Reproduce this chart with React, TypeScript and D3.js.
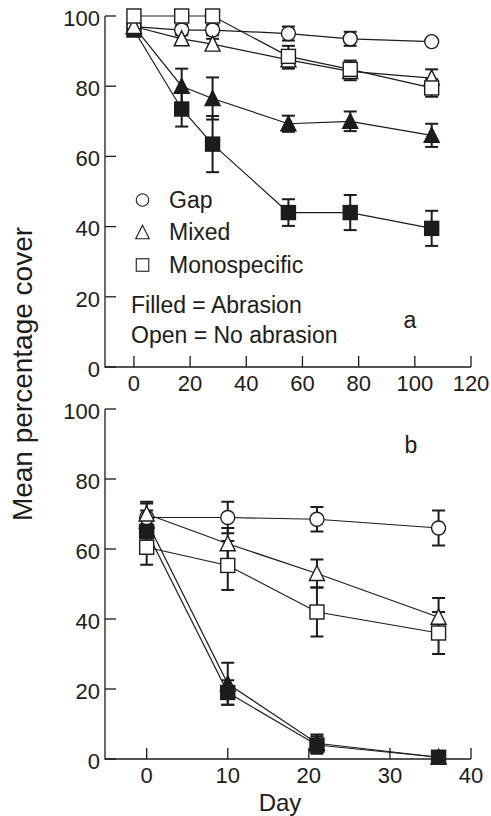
import React, { useEffect, useRef } from "react";
import * as d3 from "d3";

// panel a: days and values (mean % cover) with error bars
const daysA = [0, 17, 28, 55, 77, 106];
const gapOpenA = [97, 96, 96, 95, 93.5, 92.7];
const gapOpenErrA = [1, 1.5, 1.5, 2, 2, 0];
const mixedOpenA = [97, 93.5, 92, 87.5, 84.2, 82.3];
const mixedOpenErrA = [1, 1.5, 1.5, 2.5, 2.5, 2.5];
const monoOpenA = [100, 100, 100, 88.5, 84.8, 79.5];
const monoOpenErrA = [0, 0, 0, 3, 2.5, 2.5];
const mixedFilledA = [97, 80, 76.5, 69.3, 70, 66];
const mixedFilledErrA = [1, 5, 6, 2.3, 2.8, 3.3];
const monoFilledA = [96, 73.5, 63.5, 44, 44, 39.5];
const monoFilledErrA = [1.5, 5, 8, 3.8, 5, 5];

// panel b
const daysB = [0, 10, 21, 36];
const gapOpenB = [69, 69, 68.5, 66];
const gapOpenErrB = [4, 4.5, 3.5, 5];
const mixedOpenB = [70, 61.5, 53, 40.5];
const mixedOpenErrB = [3.5, 4.5, 4, 5.5];
const monoOpenB = [60.5, 55.3, 42, 36];
const monoOpenErrB = [5, 7, 7, 6];
const mixedFilledB = [68, 21.5, 4.5, 0.5];
const mixedFilledErrB = [3, 6, 2.5, 0.5];
const monoFilledB = [65, 19, 4, 0.5];
const monoFilledErrB = [2, 3.5, 2.5, 0.5];

const yTicks = [0, 20, 40, 60, 80, 100];
const xTicksA = [0, 20, 40, 60, 80, 100, 120];
const xTicksB = [0, 10, 20, 30, 40];

const legendItems = [
  { shape: "circle", label: "Gap" },
  { shape: "triangle", label: "Mixed" },
  { shape: "square", label: "Monospecific" },
];
const legendNotes = ["Filled = Abrasion", "Open = No abrasion"];

type Series = { shape: string; filled: boolean; values: number[]; err: number[] };

const seriesA: Series[] = [
  { shape: "triangle", filled: true, values: mixedFilledA, err: mixedFilledErrA },
  { shape: "square", filled: true, values: monoFilledA, err: monoFilledErrA },
  { shape: "circle", filled: false, values: gapOpenA, err: gapOpenErrA },
  { shape: "triangle", filled: false, values: mixedOpenA, err: mixedOpenErrA },
  { shape: "square", filled: false, values: monoOpenA, err: monoOpenErrA },
];
const seriesB: Series[] = [
  { shape: "triangle", filled: true, values: mixedFilledB, err: mixedFilledErrB },
  { shape: "square", filled: true, values: monoFilledB, err: monoFilledErrB },
  { shape: "circle", filled: false, values: gapOpenB, err: gapOpenErrB },
  { shape: "triangle", filled: false, values: mixedOpenB, err: mixedOpenErrB },
  { shape: "square", filled: false, values: monoOpenB, err: monoOpenErrB },
];

const INK = "#1d1b1c";
const FONT = "'Liberation Sans', Arial, Helvetica, sans-serif";

function drawMarker(g: any, shape: string, filled: boolean, x: number, y: number, size: number, sw: number) {
  const fill = filled ? INK : "#fff";
  if (shape === "circle") {
    g.append("circle").attr("cx", x).attr("cy", y).attr("r", size / 2)
      .attr("fill", fill).attr("stroke", INK).attr("stroke-width", sw);
  } else if (shape === "square") {
    g.append("rect").attr("x", x - size / 2).attr("y", y - size / 2)
      .attr("width", size).attr("height", size)
      .attr("fill", fill).attr("stroke", INK).attr("stroke-width", sw);
  } else {
    const h = size * 0.5;
    g.append("path")
      .attr("d", `M${x},${y - h - 1}L${x + h + 0.5},${y + h}L${x - h - 0.5},${y + h}Z`)
      .attr("fill", fill).attr("stroke", INK).attr("stroke-width", sw)
      .attr("stroke-linejoin", "miter");
  }
}

function drawPanel(svg: any, days: number[], series: Series[], x: any, y: any, xTicks: number[], label: string, labelPos: number[]) {
  const g = svg.append("g");
  const [x0, x1] = x.range();
  const [yb, yt] = y.range();

  // axes
  g.append("path")
    .attr("d", `M${x0},${yt}V${yb}H${x1}`)
    .attr("fill", "none").attr("stroke", INK).attr("stroke-width", 1.3);

  yTicks.forEach((t) => {
    g.append("line").attr("x1", x0).attr("x2", x0 + 11).attr("y1", y(t)).attr("y2", y(t))
      .attr("stroke", INK).attr("stroke-width", 1.3);
    g.append("text").attr("x", x0 - 5).attr("y", y(t) + 2).attr("dy", "0.35em")
      .attr("text-anchor", "end").attr("font-size", 22).attr("fill", INK).text(t);
  });
  xTicks.forEach((t) => {
    g.append("line").attr("x1", x(t)).attr("x2", x(t)).attr("y1", yb).attr("y2", yb - 11)
      .attr("stroke", INK).attr("stroke-width", 1.3);
    g.append("text").attr("x", x(t)).attr("y", yb + 24)
      .attr("text-anchor", "middle").attr("font-size", 22).attr("fill", INK).text(t);
  });

  // lines
  const line = d3.line<number>().x((d, i) => x(days[i])).y((d) => y(d));
  series.forEach((s) => {
    g.append("path").attr("d", line(s.values)).attr("fill", "none")
      .attr("stroke", INK).attr("stroke-width", 1.2);
  });

  // error bars
  series.forEach((s) => {
    s.values.forEach((v, i) => {
      const e = s.err[i];
      if (!e) return;
      const cx = x(days[i]);
      g.append("line").attr("x1", cx).attr("x2", cx).attr("y1", y(v - e)).attr("y2", y(v + e))
        .attr("stroke", INK).attr("stroke-width", 2);
      [v - e, v + e].forEach((ev) => {
        g.append("line").attr("x1", cx - 6.5).attr("x2", cx + 6.5).attr("y1", y(ev)).attr("y2", y(ev))
          .attr("stroke", INK).attr("stroke-width", 2);
      });
    });
  });

  // markers
  series.forEach((s) => {
    s.values.forEach((v, i) => {
      drawMarker(g, s.shape, s.filled, x(days[i]), y(v), 14, 1.4);
    });
  });

  g.append("text").attr("x", labelPos[0]).attr("y", labelPos[1])
    .attr("text-anchor", "middle").attr("font-size", 23).attr("fill", INK).text(label);
}

export default function App() {
  const ref = useRef<SVGSVGElement>(null);

  useEffect(() => {
    const svg = d3.select(ref.current);
    svg.selectAll("*").remove();
    svg.attr("font-family", FONT);

    const xA = d3.scaleLinear().domain([-10.3, 120]).range([105, 471]);
    const yA = d3.scaleLinear().domain([0, 100]).range([367, 16]);
    const xB = d3.scaleLinear().domain([-5.14, 40]).range([105, 471]);
    const yB = d3.scaleLinear().domain([0, 100]).range([759, 409]);

    drawPanel(svg, daysA, seriesA, xA, yA, xTicksA, "a", [410, 328]);
    drawPanel(svg, daysB, seriesB, xB, yB, xTicksB, "b", [411, 453]);

    // legend
    const lg = svg.append("g");
    legendItems.forEach((item, i) => {
      const cy = 200 + i * 32.5;
      drawMarker(lg, item.shape, false, 142.5, cy, 12.5, 1.1);
      lg.append("text").attr("x", 169).attr("y", cy + 7.5)
        .attr("font-size", 23).attr("fill", INK).text(item.label);
    });
    legendNotes.forEach((note, i) => {
      lg.append("text").attr("x", 131).attr("y", 313 + i * 30)
        .attr("font-size", 23).attr("fill", INK).text(note);
    });

    // axis titles
    svg.append("text")
      .attr("transform", "translate(32,374) rotate(-90)")
      .attr("text-anchor", "middle").attr("font-size", 28).attr("fill", INK)
      .text("Mean percentage cover");
    svg.append("text").attr("x", 280).attr("y", 811)
      .attr("text-anchor", "middle").attr("font-size", 24).attr("fill", INK)
      .text("Day");
  }, []);

  return (
    <svg ref={ref} width={491} height={816}
      style={{ position: "absolute", left: 0, top: 0, background: "#fff" }} />
  );
}
